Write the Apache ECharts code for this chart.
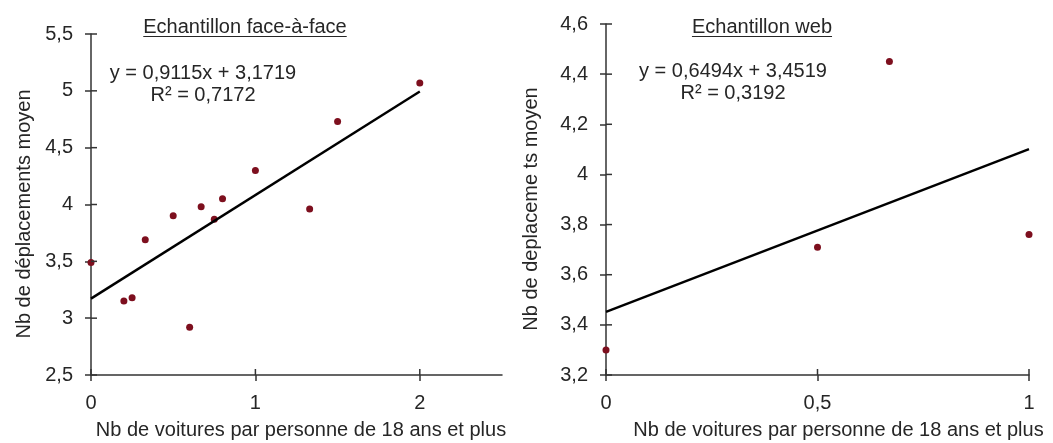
<!DOCTYPE html>
<html><head><meta charset="utf-8">
<script src="https://cdn.jsdelivr.net/npm/echarts@6/dist/echarts.min.js"></script>
<style>html,body{margin:0;padding:0;background:#fff}#c{width:1053px;height:443px}</style>
</head><body><div id="c"></div>
<script>
// ---- Left panel: Echantillon face-à-face ----
const faceX = [0, 0.2, 0.25, 0.33, 0.5, 0.6, 0.67, 0.75, 0.8, 1.0, 1.33, 1.5, 2.0];
const faceY = [3.49, 3.15, 3.18, 3.69, 3.90, 2.92, 3.98, 3.87, 4.05, 4.30, 3.96, 4.73, 5.07];
const faceTrend = [0.9115, 3.1719];      // slope, intercept
const faceTrendRange = [0, 2];
const faceXTicks = [0, 1, 2];
const faceXRange = [0, 2.5];
const faceYTicks = [2.5, 3, 3.5, 4, 4.5, 5, 5.5];
// ---- Right panel: Echantillon web ----
const webX = [0, 0.5, 0.67, 1];
const webY = [3.30, 3.71, 4.45, 3.76];
const webTrend = [0.6494, 3.4519];
const webTrendRange = [0, 1];
const webXTicks = [0, 0.5, 1];
const webXRange = [0, 1];
const webYTicks = [3.2, 3.4, 3.6, 3.8, 4.0, 4.2, 4.4, 4.6];
// ---- Texts ----
const panelTitles = ['Echantillon face-à-face', 'Echantillon web'];
const equations = ['y = 0,9115x + 3,1719\nR² = 0,7172', 'y = 0,6494x + 3,4519\nR² = 0,3192'];
const xNames = ['Nb de voitures par personne de 18 ans et plus', 'Nb de voitures par personne de 18 ans et plus'];
const yNames = ['Nb de déplacements moyen', 'Nb de deplaceme ts moyen'];

const FONT = '"Liberation Sans", Arial, sans-serif';
const TXT = '#262626';
const AX = '#333333';
const DOT = '#7d0f1e';

const fmt = v => String(+(+v).toFixed(3)).replace('.', ',');

const grids = [
  {left: 91, top: 34, width: 411, height: 341, outerBoundsMode: 'none'},
  {left: 606, top: 24, width: 423, height: 351, outerBoundsMode: 'none'}
];

function xMain(gi, range, ticks, name, namePad) {
  return {
    type: 'value', gridIndex: gi, min: range[0], max: range[1], position: 'bottom',
    axisLine: {show: true, onZero: false, lineStyle: {color: AX, width: 1.5}},
    axisTick: {show: true, inside: false, length: 6, customValues: ticks, lineStyle: {color: AX, width: 1.5}},
    axisLabel: {show: true, customValues: ticks, formatter: fmt, margin: 18, color: TXT, fontSize: 20, fontFamily: FONT},
    splitLine: {show: false},
    name: name, nameLocation: 'middle', nameGap: 45,
    nameTextStyle: {color: TXT, fontSize: 20, fontFamily: FONT, padding: namePad}
  };
}
function yMain(gi, ticks, name, gap, namePad) {
  return {
    type: 'value', gridIndex: gi, min: ticks[0], max: ticks[ticks.length - 1], position: 'left',
    axisLine: {show: true, onZero: false, lineStyle: {color: AX, width: 1.5}},
    axisTick: {show: true, inside: false, length: 6, customValues: ticks, lineStyle: {color: AX, width: 1.5}},
    axisLabel: {show: true, customValues: ticks, formatter: fmt, margin: 18, color: TXT, fontSize: 20, fontFamily: FONT},
    splitLine: {show: false},
    name: name, nameLocation: 'middle', nameGap: gap, nameRotate: 90,
    nameTextStyle: {color: TXT, fontSize: 20, fontFamily: FONT, padding: namePad}
  };
}

const pts = (xs, ys) => xs.map((x, i) => [x, ys[i]]);
const trend = (c, r) => r.map(x => [x, c[0] * x + c[1]]);
// inner halves of the crossing ticks: [x, y, kind] (kind 0 = x-axis tick, 1 = y-axis tick)
const innerTicks = (xr, xt, yt) =>
  xt.map(v => [v, yt[0], 0]).concat(yt.map(v => [xr[0], v, 1]));

function tickRender(params, api) {
  const p = api.coord([api.value(0), api.value(1)]);
  const isY = api.value(2) === 1;
  return {
    type: 'line',
    shape: isY ? {x1: p[0], y1: p[1], x2: p[0] + 6, y2: p[1]} : {x1: p[0], y1: p[1], x2: p[0], y2: p[1] - 6},
    style: {stroke: AX, lineWidth: 1.5}
  };
}

// underline widths
const cv = document.createElement('canvas').getContext('2d');
cv.font = '20px ' + FONT;
const titleCenters = [245, 762];
const underlines = panelTitles.map((t, i) => {
  const w = cv.measureText(t).width;
  return {type: 'line', z: 10, shape: {x1: titleCenters[i] - w / 2, y1: 36.5, x2: titleCenters[i] + w / 2, y2: 36.5},
    style: {stroke: TXT, lineWidth: 1}};
});

const tStyle = {color: TXT, fontSize: 20, fontWeight: 'normal', fontFamily: FONT};
const option = {
  animation: false,
  backgroundColor: '#fff',
  title: [
    {text: panelTitles[0], left: titleCenters[0], top: 17, textAlign: 'center', padding: 0, textStyle: tStyle},
    {text: panelTitles[1], left: titleCenters[1], top: 17, textAlign: 'center', padding: 0, textStyle: tStyle},
    {text: equations[0], left: 203, top: 62, textAlign: 'center', padding: 0,
      textStyle: Object.assign({lineHeight: 22, align: 'center'}, tStyle)},
    {text: equations[1], left: 733, top: 60, textAlign: 'center', padding: 0,
      textStyle: Object.assign({lineHeight: 22, align: 'center'}, tStyle)}
  ],
  grid: grids,
  xAxis: [xMain(0, faceXRange, faceXTicks, xNames[0], [0, 0, 0, 9]),
          xMain(1, webXRange, webXTicks, xNames[1], [0, 0, 0, 42])],
  yAxis: [yMain(0, faceYTicks, yNames[0], 57, [0, 19, 0, 0]),
          yMain(1, webYTicks, yNames[1], 65, [0, 19, 0, 0])],
  series: [
    {type: 'scatter', xAxisIndex: 0, yAxisIndex: 0, data: pts(faceX, faceY), symbolSize: 7,
      itemStyle: {color: DOT, opacity: 1}, z: 2, clip: false},
    {type: 'line', xAxisIndex: 0, yAxisIndex: 0, data: trend(faceTrend, faceTrendRange), symbol: 'none',
      lineStyle: {color: '#000', width: 2.4}, z: 3, clip: false},
    {type: 'scatter', xAxisIndex: 1, yAxisIndex: 1, data: pts(webX, webY), symbolSize: 7,
      itemStyle: {color: DOT, opacity: 1}, z: 2, clip: false},
    {type: 'line', xAxisIndex: 1, yAxisIndex: 1, data: trend(webTrend, webTrendRange), symbol: 'none',
      lineStyle: {color: '#000', width: 2.4}, z: 3, clip: false},
    {type: 'custom', xAxisIndex: 0, yAxisIndex: 0, data: innerTicks(faceXRange, faceXTicks, faceYTicks),
      renderItem: tickRender, encode: {x: 0, y: 1}, clip: false, silent: true, z: 4},
    {type: 'custom', xAxisIndex: 1, yAxisIndex: 1, data: innerTicks(webXRange, webXTicks, webYTicks),
      renderItem: tickRender, encode: {x: 0, y: 1}, clip: false, silent: true, z: 4}
  ],
  graphic: underlines
};

const chart = echarts.init(document.getElementById('c'), null, {renderer: 'canvas'});
chart.setOption(option);
</script>
</body></html>
